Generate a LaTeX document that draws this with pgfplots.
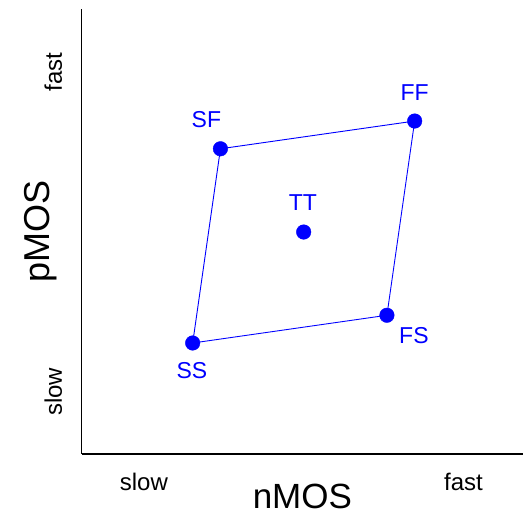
\documentclass[border=0pt]{standalone}
\usepackage{fontspec}
\setmainfont{Liberation Sans}
\usepackage{pgfplots}
\usepackage{pgfplotstable}
\pgfplotsset{compat=1.18}

% corners of the process window, in units of 111 px
\pgfplotstableread{
x     y
1.00  1.00
2.75  1.25
3.00  3.00
1.25  2.75
1.00  1.00
}\corners

\pgfplotstableread{
x     y     label  dx     dy
1.25  2.75  SF     -14    29
3.00  3.00  FF     0      28
2.00  2.00  TT     -0.7   29
2.75  1.25  FS     27     -20
1.00  1.00  SS     -0.7   -28
}\points

\begin{document}
\begin{tikzpicture}
\useasboundingbox (0,0) rectangle (523pt,518pt);
\begin{axis}[
	at={(81.7pt,64pt)}, anchor=south west,
	scale only axis,
	width=441.3pt, height=444.5pt,
	xmin=0, xmax=3.976, ymin=0, ymax=4.005,
	enlargelimits=false, clip=false,
	axis lines=left,
	axis line style={-, black, line width=1.3pt},
	major tick length=0pt,
	xtick={0.56,3.44}, xticklabels={slow,fast},
	ytick={0.56,3.44}, yticklabels={slow,fast},
	xticklabel style={anchor=north, inner sep=0pt, inner ysep=19pt, font=\fontsize{24}{28}\selectfont},
	yticklabel style={rotate=90, anchor=south, inner sep=0pt, inner ysep=19.4pt, font=\fontsize{24}{28}\selectfont},
	xlabel={nMOS}, ylabel={pMOS},
	every axis x label/.style={at={(axis description cs:0.5,0)}, anchor=north, inner sep=0pt, yshift=-30pt, font=\fontsize{35}{40}\selectfont},
	every axis y label/.style={at={(axis description cs:0,0.5)}, rotate=90, anchor=south, inner sep=0pt, inner ysep=25pt, font=\fontsize{36}{40}\selectfont},
]
\addplot[blue, line width=0.9pt, no markers] table {\corners};
\addplot[
	only marks, mark=*, blue, mark size=7.3pt,
	nodes near coords, point meta=explicit symbolic,
	visualization depends on={\thisrow{dx} \as \dx},
	visualization depends on={\thisrow{dy} \as \dy},
	every node near coord/.append style={anchor=center, inner sep=0pt,
		xshift=\dx pt, yshift=\dy pt, text=blue, font=\fontsize{23}{27}\selectfont},
] table[meta=label] {\points};
\end{axis}
\end{tikzpicture}
\end{document}
